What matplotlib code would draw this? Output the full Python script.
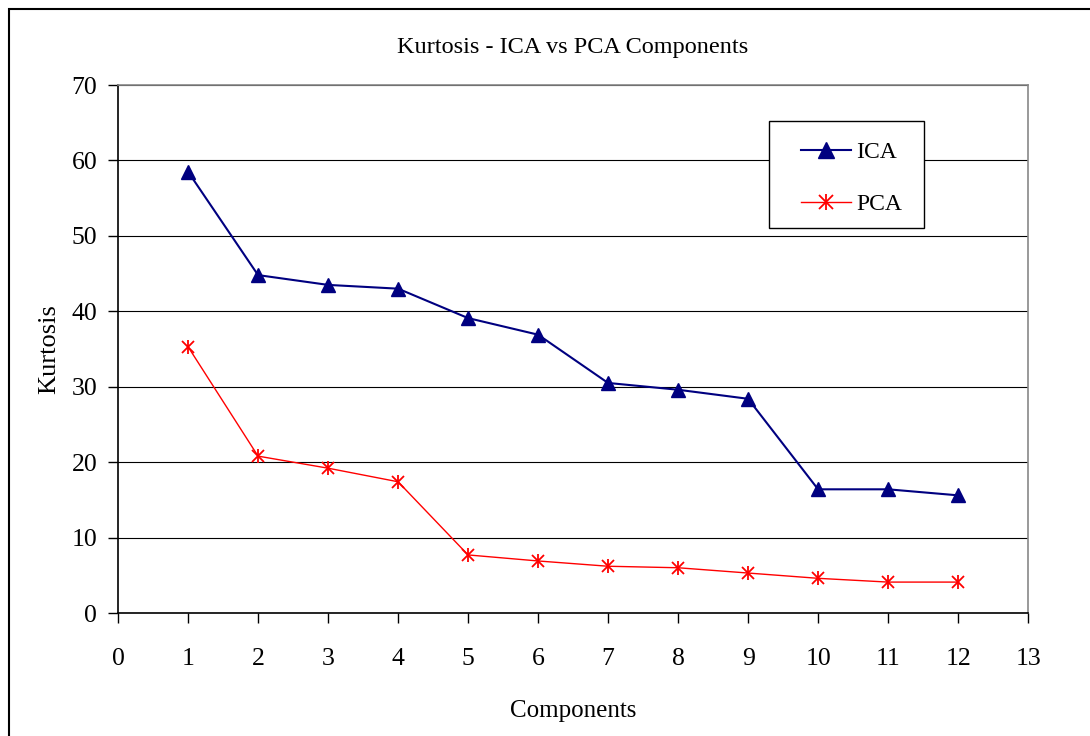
import matplotlib.pyplot as plt
from matplotlib.patches import Rectangle

components = [1, 2, 3, 4, 5, 6, 7, 8, 9, 10, 11, 12]
ica_kurtosis = [58.5, 44.8, 43.5, 43.0, 39.1, 36.9, 30.5, 29.6, 28.4, 16.4, 16.4, 15.6]
pca_kurtosis = [35.3, 20.8, 19.2, 17.4, 7.7, 6.9, 6.2, 6.0, 5.3, 4.6, 4.1, 4.1]

plt.rcParams["font.family"] = ["Liberation Serif", "DejaVu Serif"]

fig = plt.figure(figsize=(10.9, 7.36), dpi=100)
ax = fig.add_axes([0.1083, 0.1671, 0.8349, 0.7174])

# outer chart frame
fig.patches.append(Rectangle((0.008, -0.02), 1.1, 1.008, transform=fig.transFigure,
                             fill=False, edgecolor="black", linewidth=1.5))

ica_line, = ax.plot(components, ica_kurtosis, color="#000080", marker="^",
                    markersize=10, linewidth=1.5)
pca_line, = ax.plot(components, pca_kurtosis, color="red", marker="x", markersize=9,
                    markeredgewidth=1.3, linewidth=1)
# second stroke to make the asterisk
pca_bar, = ax.plot(components, pca_kurtosis, color="red", marker="|", markersize=10,
                   markeredgewidth=1.3, linestyle="none")

ax.set_xlim(0, 13)
ax.set_ylim(0, 70)
ax.set_xticks(range(0, 14))
ax.set_yticks(range(0, 71, 10))
ax.yaxis.grid(True, color="black", linewidth=0.8)
ax.set_axisbelow(True)

for side in ["top", "right"]:
    ax.spines[side].set_color("#888888")
    ax.spines[side].set_linewidth(1.2)
for side in ["left", "bottom"]:
    ax.spines[side].set_linewidth(1.2)

ax.tick_params(axis="both", direction="out", labelsize=18.5, length=7, width=1)
ax.tick_params(axis="x", pad=18)
ax.tick_params(axis="y", pad=8)

ax.set_title("Kurtosis - ICA vs PCA Components", fontsize=17.5, pad=23)
ax.set_xlabel("Components", fontsize=18, labelpad=22)
ax.set_ylabel("Kurtosis", fontsize=19, labelpad=8)

# legend box drawn separately so the entries can sit where they should
ax.add_patch(Rectangle((0.7154, 0.7292), 0.1703, 0.2026, transform=ax.transAxes,
                       fill=True, facecolor="white", edgecolor="black",
                       linewidth=1, zorder=5))
leg = ax.legend([ica_line, (pca_line, pca_bar)], ["ICA", "PCA"],
                loc="upper left", bbox_to_anchor=(0.7505, 0.893), fontsize=17,
                frameon=False, handlelength=2.1, handletextpad=0.25,
                labelspacing=1.3, borderpad=0, borderaxespad=0, markerscale=1.15)
leg.set_zorder(6)

fig.savefig("out.png", dpi=100)
